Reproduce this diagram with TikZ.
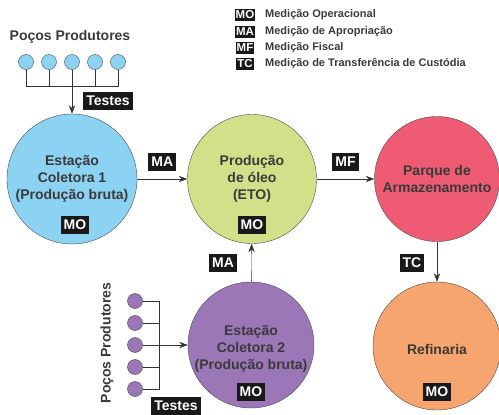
\documentclass[tikz,border=0pt]{standalone}
\usepackage{fontspec}
\setmainfont{Liberation Sans}
\usetikzlibrary{arrows.meta, positioning}
\definecolor{skyfill}{HTML}{8CD2F2}
\definecolor{limefill}{HTML}{D2E08A}
\definecolor{rosefill}{HTML}{EE5B73}
\definecolor{violetfill}{HTML}{9B77B7}
\definecolor{peachfill}{HTML}{F6A56E}
\definecolor{inkgrey}{HTML}{3A3A3A}
\definecolor{edgegrey}{HTML}{4A4A4A}
\tikzset{
  stage/.style={circle, draw=edgegrey, thin, text=inkgrey, align=center,
    font=\fontsize{14}{17}\selectfont\bfseries, inner sep=0pt},
  well/.style={circle, draw=edgegrey, thin, minimum size=15pt, inner sep=0pt},
  tag/.style={fill=black!90, text=white, font=\fontsize{14}{15}\selectfont\bfseries,
    inner xsep=3pt, inner ysep=0pt, minimum height=18pt},
  keytag/.style={tag, font=\fontsize{11.5}{12}\selectfont\bfseries,
    inner xsep=1pt, minimum height=12pt},
  legendtxt/.style={anchor=west, text=inkgrey, font=\fontsize{11}{12}\selectfont\bfseries, inner sep=0pt},
  title/.style={text=inkgrey, font=\fontsize{14}{15}\selectfont\bfseries, inner sep=0pt},
  arrow/.style={-{Stealth[length=3mm, width=2.2mm]}, thin, black!80},
  pipe/.style={thin, black!80},
}
\begin{document}
\begin{tikzpicture}[x=1pt, y=-1pt]
\useasboundingbox (0,0) rectangle (499,415);
% legend
\node[keytag] (kMO) at (245,15) {MO};
\node[keytag] (kMA) at (245,32) {MA};
\node[keytag] (kMF) at (245,48) {MF};
\node[keytag] (kTC) at (245,64) {TC};
\node[legendtxt] (tMO) at (265,15) {Medição Operacional};
\node[legendtxt] (tMA) at (265,32) {Medição de Apropriação};
\node[legendtxt] (tMF) at (265,48) {Medição Fiscal};
\node[legendtxt] (tTC) at (265,64) {Medição de Transferência de Custódia};

% stations
\node[stage, fill=skyfill, minimum size=130pt] (est1) at (72,179) {Estação\\Coletora 1\\(Produção bruta)};
\node[stage, fill=limefill, minimum size=129pt] (eto) at (252,179) {Produção\\de óleo\\(ETO)};
\node[stage, fill=rosefill, minimum size=125pt] (parque) at (437,179) {Parque de\\Armazenamento};
\node[stage, fill=violetfill, minimum size=126pt] (est2) at (251,345) {\\Estação\\Coletora 2\\(Produção bruta)};
\node[stage, fill=peachfill, minimum size=128pt] (refin) at (437,346) {\\Refinaria};

\node[tag] (mo1) at (75,225) {MO};
\node[tag] (mo2) at (252,225) {MO};
\node[tag] (mo3) at (251,392) {MO};
\node[tag] (mo4) at (437,392) {MO};

% top wells
\node[title] (pp1) at (70,37) {Poços Produtores};
\foreach \i/\x in {1/26, 2/49, 3/72, 4/95, 5/118}
  \node[well, fill=skyfill] (w\i) at (\x,62) {};
\coordinate (busA) at (118,86);
\draw[pipe] (w1) |- (busA) -- (w5);
\draw[pipe] (w2) -- (w2 |- busA);
\draw[pipe] (w4) -- (w4 |- busA);
\draw[arrow] (w3) -- (est1);
\node[tag] (test1) at (108,101) {Testes};

% bottom wells
\node[title, rotate=90] (pp2) at (107,343) {Poços Produtores};
\foreach \i/\y in {1/301, 2/323, 3/345, 4/367, 5/389}
  \node[well, fill=violetfill] (v\i) at (135,\y) {};
\coordinate (busB) at (159,389);
\draw[pipe] (v1) -| (busB) -- (v5);
\draw[pipe] (v2) -- (v2 -| busB);
\draw[pipe] (v4) -- (v4 -| busB);
\draw[arrow] (v3) -- (est2);
\node[tag] (test2) at (176,406) {Testes};

% flows
\draw[arrow] (est1) -- node[tag, above=8pt] (ma1) {MA} (eto);
\draw[arrow] (eto) -- node[tag, above=8pt] (mf) {MF} (parque);
\draw[arrow] (est2) -- (eto);
\node[tag] (ma2) at (223,263) {MA};
\draw[arrow] (parque) -- (refin);
\node[tag] (tc) at (412,263) {TC};
\end{tikzpicture}
\end{document}
